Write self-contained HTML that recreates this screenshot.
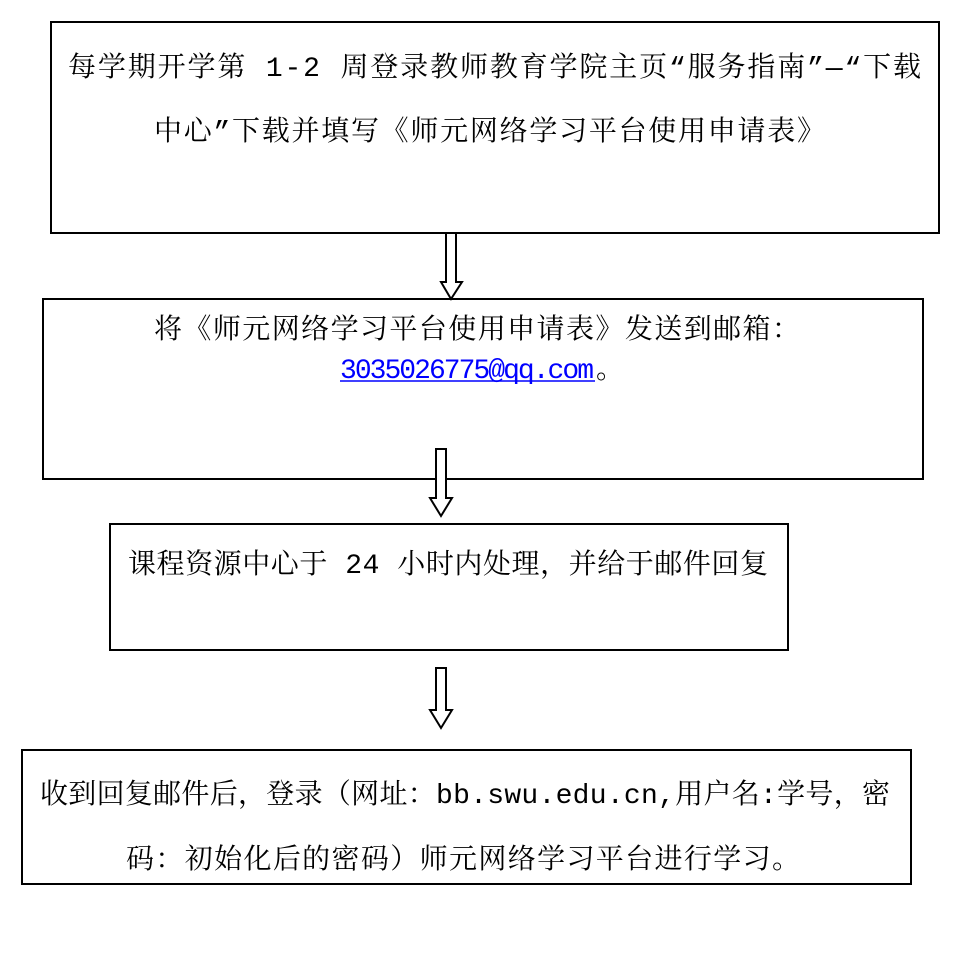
<!DOCTYPE html>
<html><head><meta charset="utf-8"><style>
body{margin:0;width:970px;height:962px;background:#fff;overflow:hidden}
text{font-family:"Liberation Mono","Noto Serif CJK SC",serif;font-size:28px;fill:#000}
</style></head><body>
<svg width="970" height="962" style="position:absolute;left:0;top:0">
<g fill="none" stroke="#000" stroke-width="2">
<rect x="51" y="22" width="888" height="211"/>
<rect x="43" y="299" width="880" height="180"/>
<rect x="110" y="524" width="678" height="126"/>
<rect x="22" y="750" width="889" height="134"/>
</g>
<text x="68" y="76" textLength="853" lengthAdjust="spacing">每学期开学第 1-2 周登录教师教育学院主页“服务指南”—“下载</text>
<text x="154" y="140" textLength="671" lengthAdjust="spacing">中心”下载并填写《师元网络学习平台使用申请表》</text>
<text x="154" y="338" textLength="646" lengthAdjust="spacing">将《师元网络学习平台使用申请表》发送到邮箱：</text>
<text x="340" y="378" textLength="254" lengthAdjust="spacing" style="fill:#00f">3035026775@qq.com</text>
<text x="596" y="378">。</text>
<line x1="340" y1="381" x2="595" y2="381" stroke="#00f" stroke-width="1.5"/>
<text x="128" y="573" textLength="640" lengthAdjust="spacing">课程资源中心于 24 小时内处理，并给于邮件回复</text>
<text x="40" y="803" textLength="850" lengthAdjust="spacing">收到回复邮件后，登录（网址：bb.swu.edu.cn,用户名:学号，密</text>
<text x="126" y="868" textLength="674" lengthAdjust="spacing">码：初始化后的密码）师元网络学习平台进行学习。</text>
<g fill="#fff" stroke="#000" stroke-width="2">
<polygon points="446,233 456,233 456,282 462,282 451,299 441,282 446,282"/>
<polygon points="436,449 446,449 446,498 452,498 441,516 430,498 436,498"/>
<polygon points="436,668 446,668 446,710 452,710 441,728 430,710 436,710"/>
</g></svg>
</body></html>
